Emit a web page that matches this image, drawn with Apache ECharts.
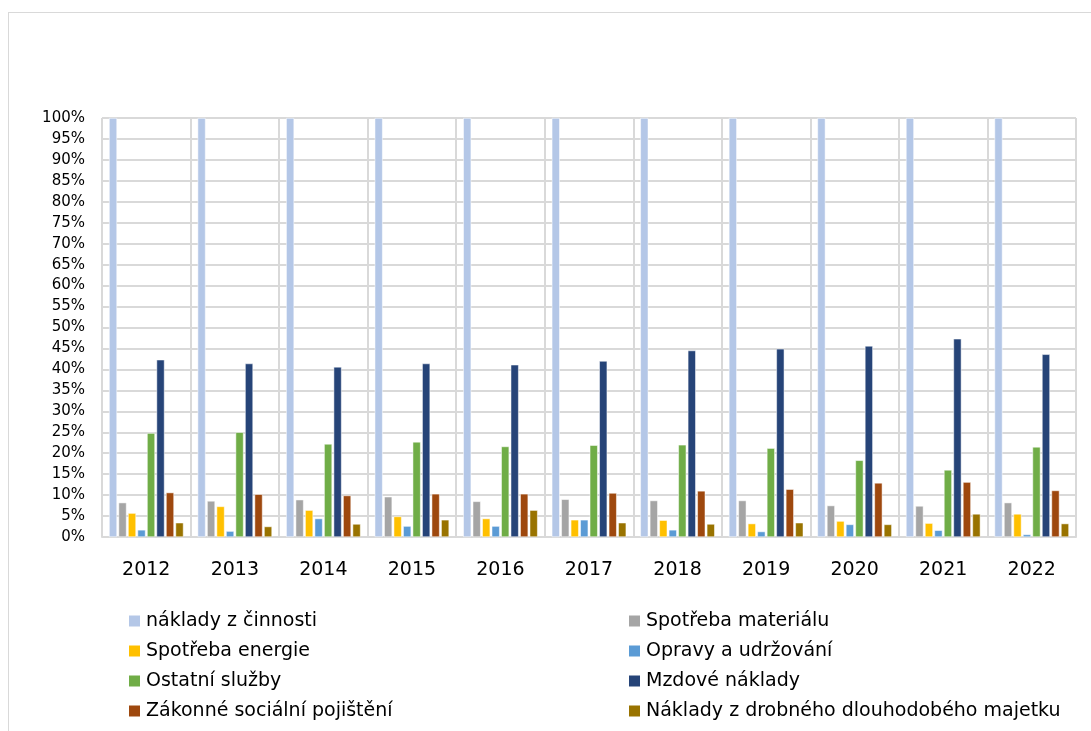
<!DOCTYPE html>
<html>
<head>
<meta charset="utf-8">
<script src="https://cdn.jsdelivr.net/npm/echarts@6/dist/echarts.min.js"></script>
<style>
  html, body { margin: 0; padding: 0; background: #fff; }
  #frame {
    position: absolute; left: 8px; top: 12px; width: 1100px; height: 740px;
    border-left: 1px solid #d9d9d9; border-top: 1px solid #d9d9d9;
  }
  #chart { position: absolute; left: 0; top: 0; width: 1091px; height: 731px; }
</style>
</head>
<body>
<div id="frame"></div>
<div id="chart"></div>
<script>
// roky
const years = ['2012', '2013', '2014', '2015', '2016', '2017', '2018', '2019', '2020', '2021', '2022']

// podíly nákladů v %
const nakladyZCinnosti = [100, 100, 100, 100, 100, 100, 100, 100, 100, 100, 100]
const spotrebaMaterialu = [8.2, 8.6, 8.9, 9.6, 8.5, 9.0, 8.7, 8.7, 7.5, 7.4, 8.2]
const spotrebaEnergie = [5.7, 7.3, 6.4, 4.9, 4.4, 4.1, 4.0, 3.2, 3.8, 3.3, 5.5]
const opravy = [1.7, 1.4, 4.4, 2.6, 2.6, 4.1, 1.7, 1.3, 3.0, 1.6, 0.6]
const ostatniSluzby = [24.8, 25.0, 22.2, 22.7, 21.6, 21.9, 22.0, 21.2, 18.3, 16.0, 21.5]
const mzdoveNaklady = [42.3, 41.4, 40.6, 41.4, 41.1, 42.0, 44.5, 44.9, 45.6, 47.3, 43.6]
const socialniPojisteni = [10.6, 10.2, 9.9, 10.3, 10.3, 10.5, 11.0, 11.4, 12.9, 13.1, 11.1]
const drobnyMajetek = [3.4, 2.5, 3.1, 4.1, 6.4, 3.4, 3.1, 3.4, 3.0, 5.5, 3.2]

const seriesDefs = [
  { name: 'náklady z činnosti', data: nakladyZCinnosti, color: '#b4c7e7' },
  { name: 'Spotřeba materiálu', data: spotrebaMaterialu, color: '#a5a5a5' },
  { name: 'Spotřeba energie', data: spotrebaEnergie, color: '#ffc000' },
  { name: 'Opravy a udržování', data: opravy, color: '#5b9bd5' },
  { name: 'Ostatní služby', data: ostatniSluzby, color: '#70ad47' },
  { name: 'Mzdové náklady', data: mzdoveNaklady, color: '#264478' },
  { name: 'Zákonné sociální pojištění', data: socialniPojisteni, color: '#9e480e' },
  { name: 'Náklady z drobného dlouhodobého majetku', data: drobnyMajetek, color: '#997300' }
]

const font = '"DejaVu Sans", sans-serif'

const chart = echarts.init(document.getElementById('chart'))

const legendBase = {
  orient: 'vertical',
  top: 611,
  padding: 0,
  itemWidth: 13,
  itemHeight: 13,
  itemGap: 10,
  icon: 'rect',
  selectedMode: false,
  textStyle: { fontFamily: font, fontSize: 19, lineHeight: 20, color: '#000' }
}

chart.setOption({
  animation: false,
  textStyle: { fontFamily: font },
  /* dvě kolony legendy */
  legend: [
    Object.assign({}, legendBase, {
      left: 127,
      data: [seriesDefs[0].name, seriesDefs[2].name, seriesDefs[4].name, seriesDefs[6].name]
    }),
    Object.assign({}, legendBase, {
      left: 627,
      data: [seriesDefs[1].name, seriesDefs[3].name, seriesDefs[5].name, seriesDefs[7].name]
    })
  ],
  grid: { left: 102, right: 15, top: 118, bottom: 194 },
  xAxis: {
    type: 'category',
    data: years,
    axisTick: { show: false },
    axisLine: { lineStyle: { color: '#d9d9d9', width: 2 } },
    splitLine: { show: true, lineStyle: { color: '#d9d9d9', width: 2 } },
    axisLabel: { color: '#000', fontSize: 19, margin: 24, fontFamily: font }
  },
  yAxis: {
    type: 'value',
    min: 0,
    max: 100,
    interval: 5,
    axisLine: { show: false },
    axisTick: { show: false },
    splitLine: { lineStyle: { color: '#d9d9d9', width: 2 } },
    axisLabel: { formatter: '{value}%', color: '#000', fontSize: 15, margin: 17, fontFamily: font }
  },
  series: seriesDefs.map(s => ({
    name: s.name,
    type: 'bar',
    data: s.data,
    barGap: '20%',
    barCategoryGap: '16%',
    itemStyle: { color: s.color, borderColor: '#ffffff', borderWidth: 0.5 }
  }))
})
</script>
</body>
</html>
